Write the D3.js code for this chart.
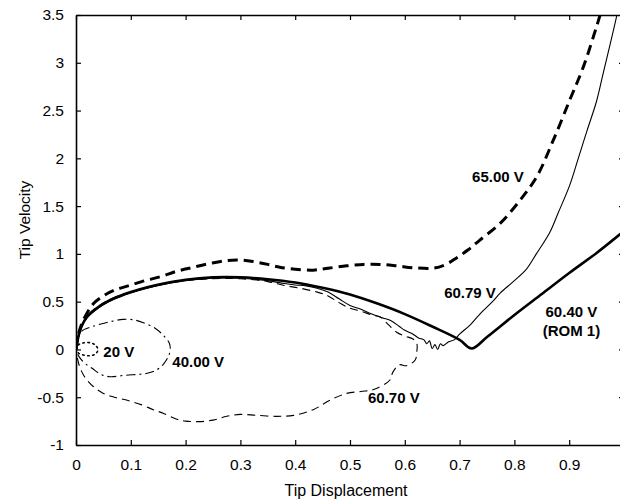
<!DOCTYPE html>
<html><head><meta charset="utf-8">
<script src="https://cdn.jsdelivr.net/npm/d3@7"></script>
<style>
body{margin:0;background:#fff;}
svg{display:block;font-family:"Liberation Sans",Arial,sans-serif;}
</style></head>
<body><svg id="chart" width="620" height="502"></svg>
<script>
// ---- data ----
const xTicks = [0,0.1,0.2,0.3,0.4,0.5,0.6,0.7,0.8,0.9,1.0];
const xTickLabels = ["0","0.1","0.2","0.3","0.4","0.5","0.6","0.7","0.8","0.9",""];
const yTicks = [-1,-0.5,0,0.5,1,1.5,2,2.5,3,3.5];
const yTickLabels = ["-1","-0.5","0","0.5","1","1.5","2","2.5","3","3.5"];
const xTitle = "Tip Displacement";
const yTitle = "Tip Velocity";

const v20 = [[0,0],[0.005,0.05],[0.015,0.07],[0.028,0.068],[0.036,0.04],[0.04,0.0],[0.036,-0.045],[0.027,-0.065],[0.015,-0.06],[0.005,-0.04],[0,0]];

const v40 = [[0,0],[0.003,0.1],[0.01,0.19],[0.03,0.24],[0.062,0.29],[0.086,0.315],[0.105,0.31],[0.123,0.28],[0.145,0.22],[0.159,0.15],[0.17,0.07],[0.172,0.0],[0.168,-0.08],[0.16,-0.15],[0.147,-0.215],[0.13,-0.25],[0.117,-0.26],[0.09,-0.27],[0.062,-0.285],[0.045,-0.26],[0.03,-0.2],[0.015,-0.14],[0.005,-0.07],[0,0]];

const v6070 = [[0,0],[0.005,0.16],[0.01,0.25],[0.02,0.35],[0.04,0.45],[0.06,0.52],[0.08,0.565],[0.1,0.6],[0.13,0.645],[0.16,0.685],[0.2,0.72],[0.25,0.74],[0.3,0.74],[0.35,0.71],[0.38,0.67],[0.41,0.64],[0.44,0.6],[0.46,0.56],[0.48,0.49],[0.5,0.43],[0.52,0.4],[0.54,0.36],[0.555,0.34],[0.57,0.26],[0.585,0.18],[0.6,0.14],[0.615,0.11],[0.622,0.06],[0.622,-0.02],[0.619,-0.11],[0.603,-0.17],[0.59,-0.16],[0.578,-0.24],[0.573,-0.32],[0.543,-0.42],[0.52,-0.44],[0.494,-0.46],[0.464,-0.53],[0.433,-0.63],[0.397,-0.69],[0.366,-0.70],[0.33,-0.69],[0.3,-0.68],[0.275,-0.70],[0.25,-0.74],[0.226,-0.755],[0.2,-0.75],[0.184,-0.73],[0.16,-0.67],[0.141,-0.63],[0.12,-0.58],[0.092,-0.53],[0.07,-0.5],[0.05,-0.46],[0.032,-0.39],[0.015,-0.28],[0.005,-0.15],[0,0]];

const v6079 = [[0,0],[0.005,0.14],[0.01,0.23],[0.02,0.33],[0.04,0.43],[0.06,0.5],[0.08,0.55],[0.1,0.59],[0.13,0.64],[0.16,0.68],[0.2,0.72],[0.25,0.745],[0.3,0.745],[0.35,0.72],[0.38,0.69],[0.4,0.675],[0.42,0.665],[0.44,0.64],[0.46,0.6],[0.48,0.53],[0.5,0.46],[0.52,0.42],[0.54,0.37],[0.56,0.33],[0.575,0.3],[0.59,0.24],[0.6,0.2],[0.615,0.16],[0.625,0.12],[0.635,0.1],[0.64,0.06],[0.645,0.09],[0.65,0.01],[0.655,0.05],[0.66,0.0],[0.665,0.06],[0.67,0.04],[0.68,0.08],[0.69,0.1],[0.70,0.16],[0.72,0.26],[0.737,0.37],[0.76,0.5],[0.774,0.59],[0.8,0.72],[0.822,0.84],[0.84,1.0],[0.865,1.23],[0.88,1.43],[0.901,1.72],[0.915,1.97],[0.932,2.28],[0.95,2.6],[0.962,2.89],[0.975,3.2],[0.987,3.5],[0.99,3.6]];

const v6040 = [[0,0],[0.005,0.15],[0.01,0.24],[0.02,0.34],[0.04,0.44],[0.06,0.51],[0.08,0.56],[0.1,0.6],[0.13,0.65],[0.16,0.69],[0.2,0.73],[0.25,0.755],[0.3,0.755],[0.35,0.735],[0.4,0.7],[0.45,0.645],[0.5,0.575],[0.55,0.48],[0.6,0.37],[0.65,0.24],[0.7,0.1],[0.722,0.01],[0.75,0.13],[0.8,0.36],[0.85,0.58],[0.9,0.8],[0.95,1.01],[1.0,1.24]];

const v6500 = [[0,0],[0.005,0.17],[0.01,0.26],[0.02,0.38],[0.032,0.48],[0.05,0.56],[0.07,0.62],[0.092,0.66],[0.12,0.71],[0.153,0.76],[0.185,0.82],[0.214,0.86],[0.245,0.9],[0.275,0.93],[0.3,0.935],[0.323,0.92],[0.35,0.89],[0.372,0.86],[0.4,0.84],[0.433,0.83],[0.46,0.85],[0.494,0.875],[0.525,0.89],[0.555,0.89],[0.585,0.875],[0.616,0.855],[0.652,0.85],[0.675,0.89],[0.695,0.96],[0.715,1.04],[0.737,1.145],[0.774,1.32],[0.81,1.56],[0.841,1.81],[0.871,2.19],[0.901,2.61],[0.926,2.96],[0.95,3.38],[0.959,3.55]];

const seriesNames = ["20 V","40.00 V","60.70 V","60.79 V","60.40 V (ROM 1)","65.00 V"];
const seriesValues = [v20, v40, v6070, v6079, v6040, v6500];

const labelTexts = ["20 V","40.00 V","60.70 V","65.00 V","60.79 V","60.40 V","(ROM 1)"];
const labelX = [0.078,0.223,0.580,0.770,0.719,0.904,0.904];
const labelY = [-0.079,-0.184,-0.56,1.752,0.538,0.34,0.141];

// ---- drawing ----
const svg = d3.select("#chart");
const L = 76, R = 624, T = 15, B = 445;
const x = d3.scaleLinear().domain([0,1]).range([L,R]);
const y = d3.scaleLinear().domain([-1,3.5]).range([B,T]);

const styles = [
  {w:1.6, dash:"1.5,3.5", cap:"round"},
  {w:1.1, dash:"9,4,2,4"},
  {w:1.1, dash:"8,5"},
  {w:1.1, dash:null},
  {w:2.6, dash:null},
  {w:3.0, dash:"10,6"}
];

svg.append("defs").append("clipPath").attr("id","clip")
  .append("rect").attr("x",L).attr("y",T).attr("width",R-L).attr("height",B-T);

const line = d3.line().x(d=>x(d[0])).y(d=>y(d[1])).curve(d3.curveCatmullRom.alpha(0.5));

const g = svg.append("g").attr("clip-path","url(#clip)");
seriesValues.forEach((s,i)=>{
  const st = styles[i];
  g.append("path").datum(s).attr("d",line)
    .attr("fill","none").attr("stroke","#000")
    .attr("stroke-width",st.w)
    .attr("stroke-dasharray",st.dash)
    .attr("stroke-linecap",st.cap||"butt")
    .attr("stroke-linejoin","round")
    .attr("data-name",seriesNames[i]);
});

// axes
const fs = 15.5;
const ax = (gsel)=>{gsel.selectAll("text").attr("font-size",fs).attr("fill","#000").attr("font-family","Liberation Sans, Arial, sans-serif");
  gsel.selectAll("line,path").attr("stroke","#000");
  gsel.select(".domain").attr("stroke-width",1.6);
  gsel.selectAll(".tick line").attr("stroke-width",1.2);};

svg.append("g").attr("transform",`translate(0,${B})`)
  .call(d3.axisBottom(x).tickValues(xTicks).tickFormat((d,i)=>xTickLabels[i]).tickSizeInner(-5).tickSizeOuter(0).tickPadding(14))
  .call(ax);
svg.append("g").attr("transform",`translate(0,${T})`)
  .call(d3.axisTop(x).tickValues(xTicks).tickFormat("").tickSizeInner(-5).tickSizeOuter(0))
  .call(ax);
svg.append("g").attr("transform",`translate(${L},0)`)
  .call(d3.axisLeft(y).tickValues(yTicks).tickFormat((d,i)=>yTickLabels[i]).tickSizeInner(-5).tickSizeOuter(0).tickPadding(12))
  .call(ax);
svg.append("g").attr("transform",`translate(${R},0)`)
  .call(d3.axisRight(y).tickValues(yTicks).tickFormat("").tickSizeInner(-5).tickSizeOuter(0))
  .call(ax);

// titles
svg.append("text").attr("x",346).attr("y",496).attr("text-anchor","middle")
  .attr("font-size",16).text(xTitle);
svg.append("text").attr("transform","translate(30,220) rotate(-90)").attr("text-anchor","middle")
  .attr("font-size",15.5).text(yTitle);

// annotations
labelTexts.forEach((t,i)=>{
  svg.append("text").attr("x",x(labelX[i])).attr("y",y(labelY[i]))
    .attr("text-anchor","middle").attr("font-size",15).attr("font-weight","bold").text(t);
});
</script></body></html>
